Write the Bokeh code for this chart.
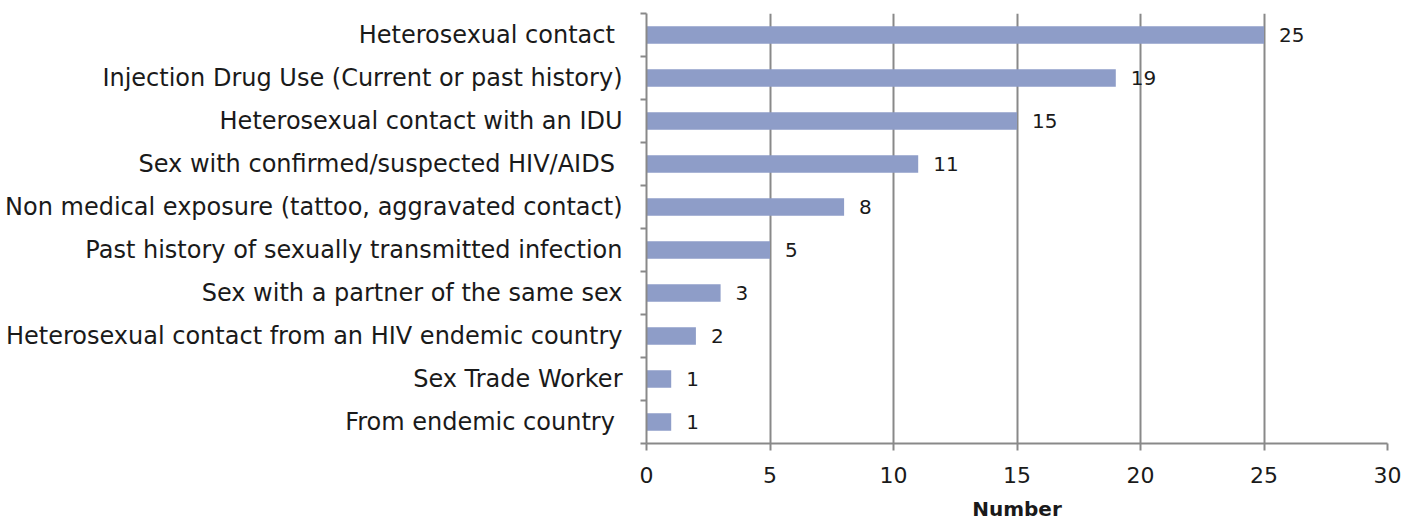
from bokeh.plotting import figure
from bokeh.models import ColumnDataSource, FixedTicker, Range1d, LabelSet
from bokeh.core.properties import value
from bokeh.embed import file_html
from bokeh.resources import INLINE

categories = [
    "Heterosexual contact ",
    "Injection Drug Use (Current or past history)",
    "Heterosexual contact with an IDU",
    "Sex with confirmed/suspected HIV/AIDS ",
    "Non medical exposure (tattoo, aggravated contact)",
    "Past history of sexually transmitted infection",
    "Sex with a partner of the same sex",
    "Heterosexual contact from an HIV endemic country",
    "Sex Trade Worker",
    "From endemic country ",
]
values = [25, 19, 15, 11, 8, 5, 3, 2, 1, 1]
x_ticks = [0, 5, 10, 15, 20, 25, 30]

n = len(categories)
ypos = [n - i - 0.5 for i in range(n)]
labels_txt = [str(v) for v in values]

src = ColumnDataSource(dict(y=ypos, v=values, lab=labels_txt, cat=categories))

FONT = "DejaVu Sans"
GRAY = "#898989"
TXT = "#1a1a1a"

p = figure(width=1415, height=523, output_backend="svg", toolbar_location=None,
           x_range=Range1d(0, 30), y_range=Range1d(0, n),
           min_border_left=646, min_border_right=28, min_border_top=13, min_border_bottom=80)
p.outline_line_color = None
p.background_fill_color = "white"
p.border_fill_color = "white"

p.hbar(y="y", right="v", left=0, height=0.41, source=src, fill_color="#8E9DC8", line_color=None)

lbl = LabelSet(x="v", y="y", text="lab", source=src, x_offset=15, text_align="left",
               text_baseline="middle", text_font=value(FONT), text_font_size="20px", text_color=TXT)
p.add_layout(lbl)

# x axis
p.xaxis.ticker = FixedTicker(ticks=x_ticks)
p.xaxis.axis_line_color = GRAY
p.xaxis.axis_line_width = 2
p.xaxis.major_tick_line_color = GRAY
p.xaxis.major_tick_line_width = 2
p.xaxis.major_tick_out = 7
p.xaxis.major_tick_in = 0
p.xaxis.minor_tick_line_color = None
p.xaxis.major_label_text_font = FONT
p.xaxis.major_label_text_font_size = "22px"
p.xaxis.major_label_text_color = TXT
p.xaxis.major_label_standoff = 16
p.xaxis.axis_label = "Number"
p.xaxis.axis_label_text_font = FONT
p.xaxis.axis_label_text_font_style = "bold"
p.xaxis.axis_label_text_font_size = "20px"
p.xaxis.axis_label_text_color = TXT
p.xaxis.axis_label_standoff = 11

# y axis
p.yaxis.ticker = FixedTicker(ticks=ypos, minor_ticks=list(range(n + 1)))
p.yaxis.major_label_overrides = {y: c for y, c in zip(ypos, categories)}
p.yaxis.major_tick_line_color = None
p.yaxis.minor_tick_line_color = GRAY
p.yaxis.minor_tick_line_width = 2
p.yaxis.minor_tick_out = 6
p.yaxis.minor_tick_in = 0
p.yaxis.axis_line_color = GRAY
p.yaxis.axis_line_width = 2
p.yaxis.major_label_text_font = FONT
p.yaxis.major_label_text_font_size = "24px"
p.yaxis.major_label_text_color = TXT
p.yaxis.major_label_standoff = 18

p.xgrid.grid_line_color = GRAY
p.xgrid.grid_line_width = 2
p.ygrid.grid_line_color = None

open("out.html", "w").write(file_html(p, INLINE))
